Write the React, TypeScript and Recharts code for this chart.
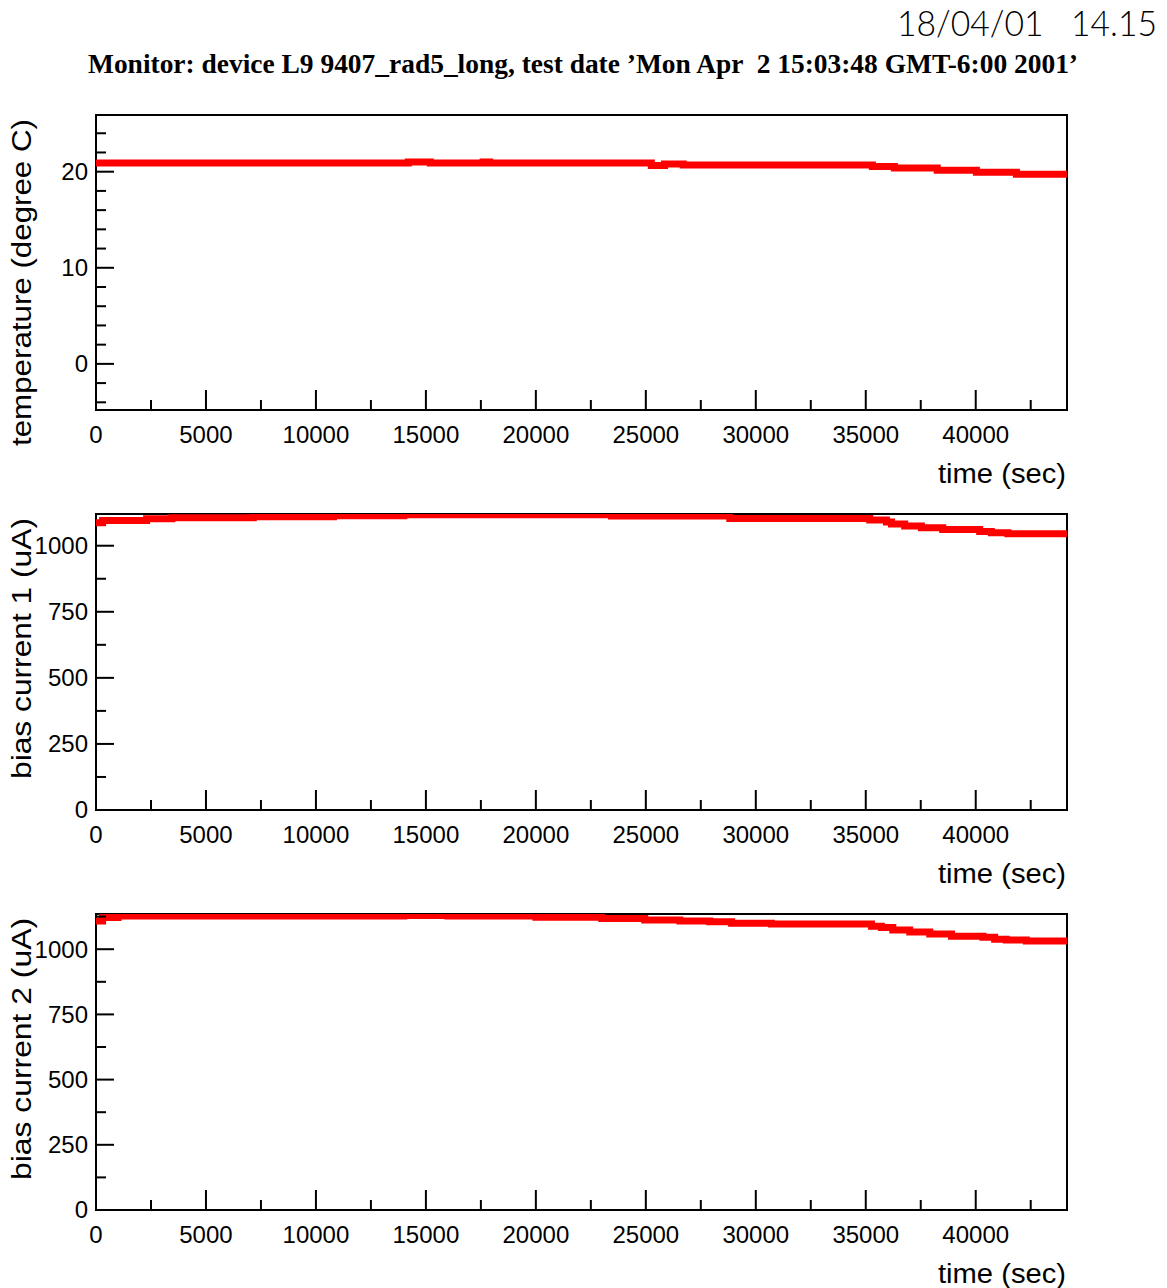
import { LineChart, Line, XAxis, YAxis, ReferenceArea } from 'recharts'

// time axis (sec)
const X_MAX = 44150
const timeTicks = [
  0, 2500, 5000, 7500, 10000, 12500, 15000, 17500, 20000, 22500, 25000,
  27500, 30000, 32500, 35000, 37500, 40000, 42500,
]
const timeLabels = [0, 5000, 10000, 15000, 20000, 25000, 30000, 35000, 40000]

// temperature (degree C)
const tempTime = [0, 14200, 15200, 17600, 17900, 25250, 25850, 26700, 35300, 36300, 38250, 40030, 41850, 44150]
const tempValue = [20.9, 21.0, 20.9, 21.0, 20.9, 20.65, 20.8, 20.7, 20.55, 20.38, 20.15, 19.93, 19.74, 19.72]
const tempTicks = [-4, -2, 0, 2, 4, 6, 8, 10, 12, 14, 16, 18, 20, 22, 24]
const tempLabels = [0, 10, 20]

// bias current 1 (uA)
const bias1Time = [0, 300, 2300, 3450, 7150, 10800, 14000, 23440, 28820, 35180, 35940, 36170, 36770, 37530, 38500, 40180, 40710, 41460, 44150]
const bias1Value = [1087, 1095, 1102, 1106, 1110, 1113, 1117, 1112, 1103, 1097, 1090, 1082, 1075, 1068, 1061, 1054, 1049, 1045, 1044]

// bias current 2 (uA)
const bias2Time = [0, 300, 1000, 14000, 16000, 20000, 23000, 24950, 26550, 27910, 28900, 30710, 35260, 35710, 36230, 37000, 37910, 38900, 40330, 40860, 41390, 42300, 44150]
const bias2Value = [1108, 1122, 1127, 1129, 1127, 1123, 1118, 1112, 1108, 1105, 1100, 1097, 1088, 1083, 1074, 1066, 1058, 1050, 1046, 1038, 1035, 1031, 1028]

const biasTicks1 = [0, 125, 250, 375, 500, 625, 750, 875, 1000]
const biasTicks2 = [0, 125, 250, 375, 500, 625, 750, 875, 1000, 1125]
const biasLabels = [0, 250, 500, 750, 1000]

const SANS = "'Liberation Sans', Arial, Helvetica, sans-serif"

const toRows = (times: number[], values: number[]) => times.map((t, i) => ({ t, v: values[i] }))

function makeXTick(labels: number[]) {
  return (props: any) => {
    const { x, y, payload } = props
    const major = labels.includes(payload.value)
    return (
      <g>
        <line x1={x} x2={x} y1={y} y2={y - (major ? 20 : 10)} stroke="#000" strokeWidth={2} />
        {major && (
          <text x={x} y={y + 33} textAnchor="middle" fontSize={24} fontFamily={SANS} fill="#000">
            {payload.value}
          </text>
        )}
      </g>
    )
  }
}

function makeYTick(labels: number[]) {
  return (props: any) => {
    const { x, y, payload } = props
    const major = labels.includes(payload.value)
    return (
      <g>
        <line x1={x} x2={x + (major ? 18 : 10)} y1={y} y2={y} stroke="#000" strokeWidth={2} />
        {major && (
          <text x={x - 8} y={y} dy="0.35em" textAnchor="end" fontSize={24} fontFamily={SANS} fill="#000">
            {payload.value}
          </text>
        )}
      </g>
    )
  }
}

interface PanelProps {
  top: number
  plotHeight: number
  axisHeight: number
  data: { t: number; v: number }[]
  yDomain: [number, number]
  yTicks: number[]
  yLabels: number[]
  yTitle: string
  yTitleLen: number
}

function Panel({ top, plotHeight, axisHeight, data, yDomain, yTicks, yLabels, yTitle, yTitleLen }: PanelProps) {
  const height = 15 + plotHeight + axisHeight
  const plotBottom = 15 + plotHeight
  return (
    <div style={{ position: 'absolute', left: 0, top }}>
      <LineChart width={1167} height={height} data={data} margin={{ top: 15, right: 100, bottom: 0, left: 0 }}>
        <XAxis
          dataKey="t"
          type="number"
          domain={[0, X_MAX]}
          ticks={timeTicks}
          interval={0}
          allowDataOverflow
          axisLine={false}
          tickLine={false}
          tickSize={0}
          tickMargin={0}
          height={axisHeight}
          tick={makeXTick(timeLabels)}
          label={() => (
            <text x={1066} y={plotBottom + 73} textAnchor="end" fontSize={27} fontFamily={SANS}
              textLength={128} lengthAdjust="spacingAndGlyphs" fill="#000">
              time (sec)
            </text>
          )}
        />
        <YAxis
          type="number"
          domain={yDomain}
          ticks={yTicks}
          interval={0}
          allowDataOverflow
          axisLine={false}
          tickLine={false}
          tickSize={0}
          tickMargin={0}
          width={96}
          tick={makeYTick(yLabels)}
          label={() => (
            <text x={31} y={19} transform="rotate(-90 31 19)" textAnchor="end" fontSize={27} fontFamily={SANS}
              textLength={yTitleLen} lengthAdjust="spacingAndGlyphs" fill="#000">
              {yTitle}
            </text>
          )}
        />
        <ReferenceArea x1={0} x2={X_MAX} y1={yDomain[0]} y2={yDomain[1]} fill="none" stroke="#000"
          strokeWidth={2} ifOverflow="visible" />
        <Line
          dataKey="v"
          type="stepAfter"
          stroke="#ff0000"
          strokeWidth={7}
          dot={false}
          activeDot={false}
          isAnimationActive={false}
        />
      </LineChart>
    </div>
  )
}

export default function App() {
  return (
    <div style={{ position: 'absolute', left: 0, top: 0, width: 1167, height: 1288, background: '#fff', overflow: 'hidden' }}>
      <svg width={1167} height={100} style={{ position: 'absolute', left: 0, top: 0 }}>
        <text x={1157} y={36} textAnchor="end" fontSize={35} fontWeight={300}
          fontFamily="Lato, 'Open Sans', 'Liberation Sans', sans-serif" textLength={260}
          lengthAdjust="spacingAndGlyphs" style={{ whiteSpace: 'pre' }} fill="#000">
          {'18/04/01   14.15'}
        </text>
        <text x={583} y={73} textAnchor="middle" fontSize={27} fontWeight="bold"
          fontFamily="'Liberation Serif', 'Times New Roman', serif" textLength={990}
          lengthAdjust="spacingAndGlyphs" style={{ whiteSpace: 'pre' }} fill="#000">
          {'Monitor: device L9 9407_rad5_long, test date \u2019Mon Apr  2 15:03:48 GMT-6:00 2001\u2019'}
        </text>
      </svg>
      <Panel top={100} plotHeight={295} axisHeight={90} data={toRows(tempTime, tempValue)}
        yDomain={[-4.8, 25.9]} yTicks={tempTicks} yLabels={tempLabels}
        yTitle="temperature (degree C)" yTitleLen={327} />
      <Panel top={499} plotHeight={296} axisHeight={90} data={toRows(bias1Time, bias1Value)}
        yDomain={[0, 1120]} yTicks={biasTicks1} yLabels={biasLabels}
        yTitle="bias current 1 (uA)" yTitleLen={261} />
      <Panel top={899} plotHeight={296} axisHeight={78} data={toRows(bias2Time, bias2Value)}
        yDomain={[0, 1135]} yTicks={biasTicks2} yLabels={biasLabels}
        yTitle="bias current 2 (uA)" yTitleLen={262} />
    </div>
  )
}
